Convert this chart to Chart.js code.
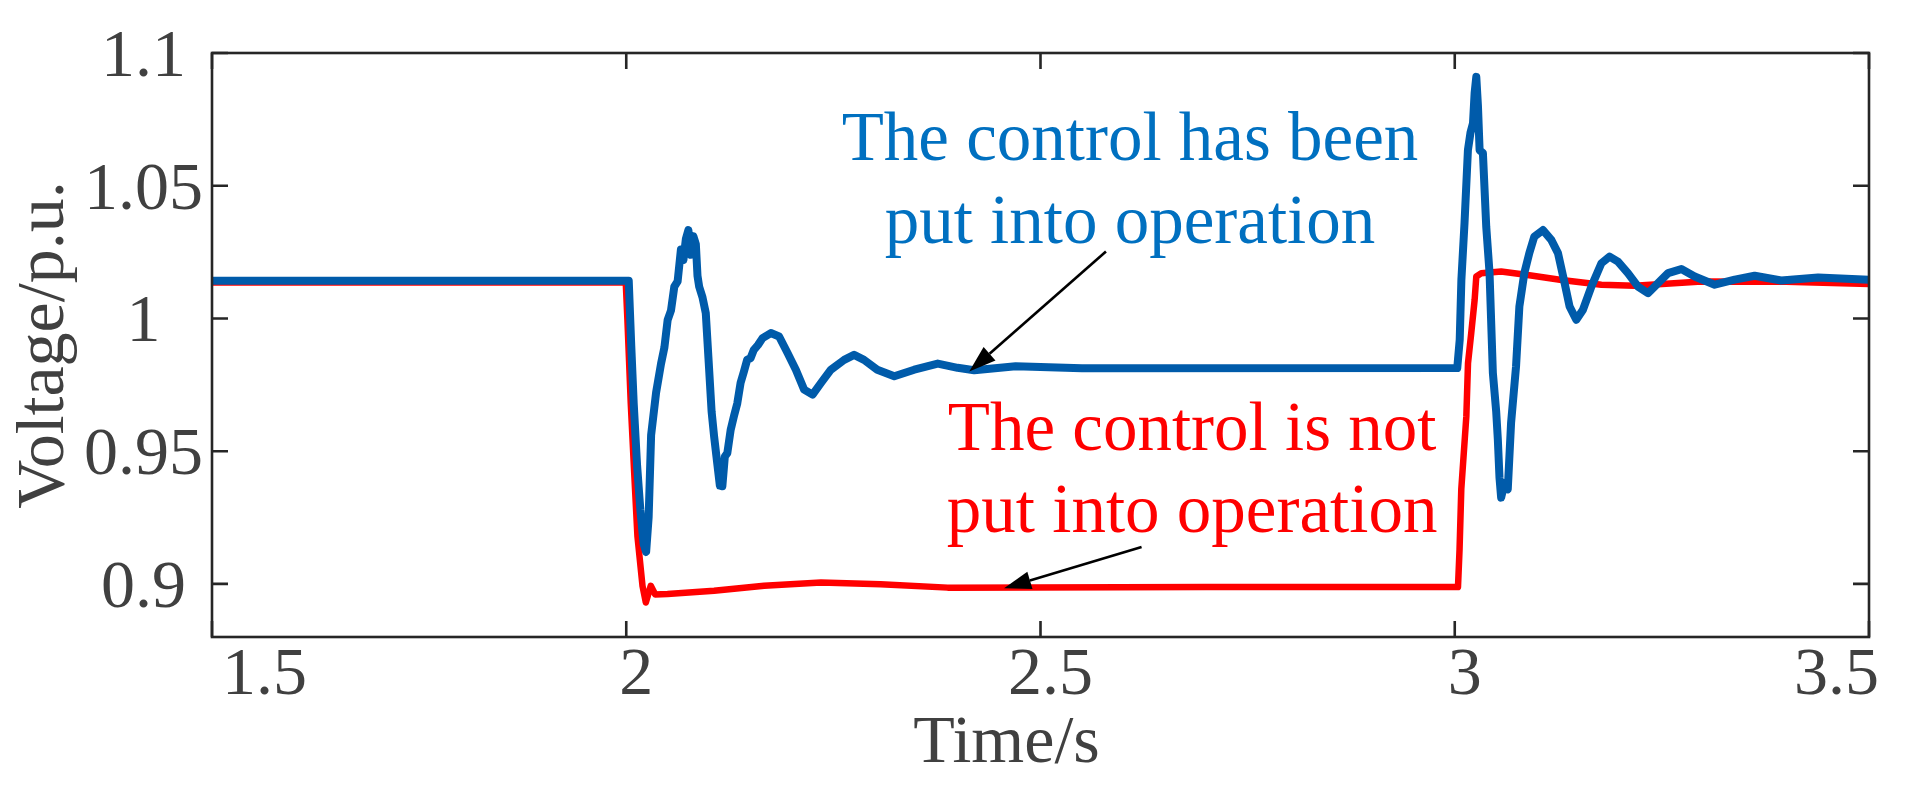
<!DOCTYPE html>
<html>
<head>
<meta charset="utf-8">
<script src="https://cdn.jsdelivr.net/npm/chart.js@4.4.1/dist/chart.umd.min.js"></script>
<style>
  html, body { margin: 0; padding: 0; background: #fff; }
  canvas { display: block; }
</style>
</head>
<body>
<canvas id="voltageChart" width="1917" height="793"></canvas>
<script>
// control put into operation (blue)
const timeWith = [1.5, 2.003, 2.006, 2.009, 2.013, 2.017, 2.021, 2.024, 2.027, 2.030, 2.036, 2.042, 2.046, 2.050,
  2.054, 2.058, 2.062, 2.066, 2.069, 2.072, 2.075, 2.078, 2.081, 2.084, 2.086, 2.088, 2.092, 2.096, 2.100,
  2.103, 2.106, 2.110, 2.113, 2.116, 2.119, 2.122, 2.126, 2.130, 2.134, 2.138, 2.142, 2.146, 2.150, 2.154,
  2.159, 2.1645, 2.1745, 2.1845, 2.1947, 2.2047, 2.2147, 2.2249, 2.235, 2.247, 2.263, 2.275, 2.287, 2.303,
  2.3235, 2.3476, 2.376, 2.400, 2.420, 2.470, 2.55, 3.003, 3.006, 3.008, 3.0118, 3.0159, 3.019, 3.022,
  3.024, 3.026, 3.028, 3.030, 3.034, 3.038, 3.042, 3.046, 3.050, 3.052, 3.054, 3.056, 3.060, 3.064, 3.068,
  3.074, 3.078, 3.084, 3.090, 3.096, 3.1065, 3.1165, 3.1246, 3.1326, 3.1386, 3.1467, 3.1548, 3.1649, 3.177,
  3.1869, 3.197, 3.209, 3.2212, 3.2333, 3.2454, 3.2575, 3.2735, 3.2896, 3.3138, 3.338, 3.362, 3.394,
  3.4386, 3.5];
const voltWith = [1.0142, 1.0142, 0.990, 0.968, 0.945, 0.928, 0.915, 0.912, 0.925, 0.956, 0.972, 0.983, 0.989, 0.9995,
  1.003, 1.012, 1.014, 1.026, 1.022, 1.030, 1.0333, 1.024, 1.031, 1.028, 1.016, 1.012, 1.008, 1.002, 0.981,
  0.965, 0.9557, 0.945, 0.937, 0.9368, 0.948, 0.9493, 0.958, 0.9632, 0.968, 0.9757, 0.980, 0.9845, 0.985, 0.9882,
  0.990, 0.9926, 0.9945, 0.9932, 0.987, 0.9807, 0.9732, 0.9713, 0.9757, 0.9807, 0.9844, 0.9863, 0.9844, 0.9807,
  0.9782, 0.9807, 0.983, 0.9814, 0.9805, 0.982, 0.9812, 0.9813, 0.992, 1.0145, 1.036, 1.0634, 1.070, 1.0735,
  1.085, 1.091, 1.080, 1.0634, 1.0623, 1.0346, 1.0171, 0.9795, 0.965, 0.9544, 0.940, 0.9325, 0.938, 0.9356, 0.9607,
  0.982, 1.0045, 1.0171, 1.0246, 1.0308, 1.0333, 1.0296, 1.0246, 1.0133, 1.0045, 0.9995, 1.0033, 1.012, 1.0208,
  1.0233, 1.0214, 1.0171, 1.012, 1.0095, 1.0133, 1.0171, 1.0186, 1.0158, 1.0127, 1.0146, 1.0161, 1.0143,
  1.0154, 1.0146];

// control not put into operation (red)
const timeWithout = [1.5, 1.9994, 2.0014, 2.0054, 2.0094, 2.0135, 2.0196, 2.0236, 2.0296, 2.035, 2.0498, 2.106,
  2.1664, 2.235, 2.307, 2.388, 2.7, 3.0039, 3.0058, 3.0079, 3.014, 3.016, 3.0199, 3.024, 3.026, 3.032, 3.056,
  3.088, 3.129, 3.177, 3.217, 3.298, 3.4, 3.5];
const voltWithout = [1.0135, 1.0135, 0.9995, 0.9683, 0.9431, 0.918, 0.8993, 0.893, 0.8993, 0.896, 0.8962, 0.8974,
  0.8993, 0.9005, 0.8999, 0.8986, 0.8988, 0.8988, 0.913, 0.9357, 0.9632, 0.9832, 0.9945, 1.007, 1.0158, 1.017, 1.0177,
  1.0164, 1.0145, 1.0127, 1.0123, 1.0139, 1.0138, 1.013];

const xTicks = [1.5, 2, 2.5, 3, 3.5];
const yTicks = [0.9, 0.95, 1, 1.05, 1.1];

const BLUE = "#005BAA";
const RED = "#FF0000";
const AXIS = "#262626";
const LABEL = "#404040";
const FONT = "'Liberation Serif', 'Times New Roman', serif";

// notes placed in data coordinates
const notes = [
  { lines: ["The control has been", "put into operation"], color: "#0070C0", x: 2.608, y: 1.0597, dy: 83,
    from: [2.579, 1.0252], to: [2.414, 0.980] },
  { lines: ["The control is not", "put into operation"], color: RED, x: 2.683, y: 0.9503, dy: 82,
    from: [2.622, 0.9139], to: [2.456, 0.8984] }
];

Chart.defaults.font.family = FONT;

function toPoints(ts, vs) {
  return ts.map((t, i) => ({ x: t, y: vs[i] }));
}

function drawArrow(ctx, x1, y1, x2, y2) {
  const ang = Math.atan2(y2 - y1, x2 - x1);
  const len = 27, half = 9;
  const bx = x2 - len * Math.cos(ang), by = y2 - len * Math.sin(ang);
  ctx.beginPath();
  ctx.moveTo(x1, y1);
  ctx.lineTo(bx, by);
  ctx.stroke();
  ctx.beginPath();
  ctx.moveTo(x2, y2);
  ctx.lineTo(bx + half * Math.sin(ang), by - half * Math.cos(ang));
  ctx.lineTo(bx - half * Math.sin(ang), by + half * Math.cos(ang));
  ctx.closePath();
  ctx.fill();
}

// box around the plot, inward ticks on all four sides, and the two notes
const framePlugin = {
  id: "frame",
  afterDatasetsDraw(chart) {
    const { ctx, chartArea: a, scales: { x, y } } = chart;
    ctx.save();
    ctx.strokeStyle = AXIS;
    ctx.lineWidth = 2.6;
    ctx.strokeRect(a.left, a.top, a.right - a.left, a.bottom - a.top);
    ctx.beginPath();
    x.ticks.forEach(t => {
      const px = x.getPixelForValue(t.value);
      ctx.moveTo(px, a.bottom); ctx.lineTo(px, a.bottom - 16);
      ctx.moveTo(px, a.top); ctx.lineTo(px, a.top + 16);
    });
    y.ticks.forEach(t => {
      const py = y.getPixelForValue(t.value);
      ctx.moveTo(a.left, py); ctx.lineTo(a.left + 16, py);
      ctx.moveTo(a.right, py); ctx.lineTo(a.right - 16, py);
    });
    ctx.stroke();

    ctx.textAlign = "center";
    ctx.textBaseline = "alphabetic";
    ctx.font = "69px " + FONT;
    notes.forEach(n => {
      ctx.fillStyle = n.color;
      const cx = x.getPixelForValue(n.x);
      const cy = y.getPixelForValue(n.y);
      n.lines.forEach((line, i) => ctx.fillText(line, cx, cy + i * n.dy));
      ctx.strokeStyle = "#000";
      ctx.fillStyle = "#000";
      ctx.lineWidth = 2.6;
      drawArrow(ctx, x.getPixelForValue(n.from[0]), y.getPixelForValue(n.from[1]),
        x.getPixelForValue(n.to[0]), y.getPixelForValue(n.to[1]));
    });
    ctx.restore();
  }
};

new Chart(document.getElementById("voltageChart"), {
  type: "line",
  data: {
    datasets: [
      {
        label: "The control has been put into operation",
        data: toPoints(timeWith, voltWith),
        borderColor: BLUE,
        borderWidth: 8,
        pointRadius: 0,
        tension: 0,
        borderJoinStyle: "round",
        order: 0
      },
      {
        label: "The control is not put into operation",
        data: toPoints(timeWithout, voltWithout),
        borderColor: RED,
        borderWidth: 6.5,
        pointRadius: 0,
        tension: 0,
        borderJoinStyle: "round",
        order: 1
      }
    ]
  },
  options: {
    responsive: false,
    animation: false,
    devicePixelRatio: 1,
    layout: { padding: { left: 0, top: 53, right: 48, bottom: 0 } },
    plugins: { legend: { display: false }, tooltip: { enabled: false } },
    scales: {
      x: {
        type: "linear",
        min: 1.5,
        max: 3.5,
        afterBuildTicks: s => { s.ticks = xTicks.map(v => ({ value: v })); },
        afterFit: s => { s.height = 156; },
        grid: { display: false, drawTicks: false },
        border: { display: false },
        ticks: { align: "inner", labelOffset: 10, padding: 5, color: LABEL, font: { size: 68, lineHeight: 1 },
          maxRotation: 0, callback: v => String(v) },
        title: { display: true, text: "Time/s    ", color: LABEL, font: { size: 68 }, padding: { top: 0, bottom: 8 } }
      },
      y: {
        type: "linear",
        min: 0.88,
        max: 1.1,
        afterBuildTicks: s => { s.ticks = yTicks.map(v => ({ value: v })); },
        afterFit: s => { s.width = 212; },
        grid: { display: false, drawTicks: false },
        border: { display: false },
        ticks: { crossAlign: "center", padding: 9, labelOffset: 5, color: LABEL, font: { size: 68 },
          callback: v => String(v) },
        title: { display: true, text: "Voltage/p.u.", color: LABEL, font: { size: 68 }, padding: { top: 4, bottom: 0 } }
      }
    }
  },
  plugins: [framePlugin]
});
</script>
</body>
</html>
